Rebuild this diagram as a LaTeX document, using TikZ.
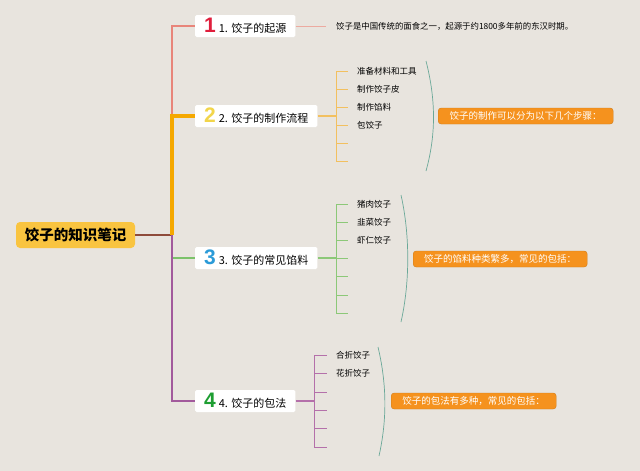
\documentclass[tikz,border=0pt]{standalone}
\usepackage{fontspec}
\setmainfont{Noto Sans CJK SC}
\newfontfamily\numfont{Liberation Sans}
\usetikzlibrary{positioning}

\definecolor{bgc}{RGB}{232,228,222}
\definecolor{rootc}{RGB}{249,196,64}
\definecolor{rootln}{RGB}{142,75,59}
\definecolor{brA}{RGB}{232,133,122}
\definecolor{brB}{RGB}{245,168,0}
\definecolor{brC}{RGB}{124,194,106}
\definecolor{brD}{RGB}{162,90,156}
\definecolor{subA}{RGB}{236,170,160}
\definecolor{subB}{RGB}{242,192,96}
\definecolor{subC}{RGB}{140,200,120}
\definecolor{subD}{RGB}{180,112,170}
\definecolor{arcc}{RGB}{106,168,152}
\definecolor{sumc}{RGB}{245,146,30}
\definecolor{numA}{RGB}{224,30,60}
\definecolor{numB}{RGB}{242,213,74}
\definecolor{numC}{RGB}{43,155,216}
\definecolor{numD}{RGB}{30,158,50}

\tikzset{
  rootbox/.style={fill=rootc,rounded corners=4pt,minimum width=119pt,minimum height=26pt,
    inner sep=0pt,font=\fontsize{14.5}{16}\selectfont\bfseries},
  topic/.style={fill=white,rounded corners=1.5pt,minimum height=22pt,inner xsep=9pt,
    inner ysep=0pt,anchor=west,font=\fontsize{11}{12}\selectfont},
  leaf/.style={inner sep=0pt,anchor=west,font=\fontsize{8.5}{10}\selectfont},
  desc/.style={inner sep=0pt,anchor=west,font=\fontsize{8.4}{10}\selectfont},
  sumbox/.style={fill=sumc,draw=sumc!85!black,line width=0.4pt,rounded corners=3pt,
    text=white,minimum height=16pt,inner xsep=9pt,inner ysep=0pt,anchor=west,
    align=left,font=\fontsize{9.5}{11}\selectfont},
  brace/.style={draw=arcc,line width=0.7pt},
}
\newcommand{\bignum}[2]{{\numfont\bfseries\fontsize{21}{21}\selectfont\color{#1}#2}\hspace{3pt}}

\begin{document}
\begin{tikzpicture}[x=1pt,y=-1pt]
  \path[fill=bgc,use as bounding box] (0,0) rectangle (640,471);

  % root
  \node[rootbox] (root) at (75.5,235) {饺子的知识笔记};
  \coordinate (hub) at (172,235);

  % topics
  \node[topic] (t1) at (195,26) {\bignum{numA}{1}1. 饺子的起源};
  \node[topic] (t2) at (195,116) {\bignum{numB}{2}2. 饺子的制作流程};
  \node[topic] (t3) at (195,258) {\bignum{numC}{3}3. 饺子的常见馅料};
  \node[topic] (t4) at (195,401) {\bignum{numD}{4}4. 饺子的包法};

  % main branches
  \draw[rootln,line width=2pt] (root.east) -- (hub);
  \draw[brA,line width=2pt] (hub) |- (t1.west);
  \draw[brB,line width=3.5pt] (hub) |- (t2.west);
  \draw[brC,line width=2pt] (hub) |- (t3.west);
  \draw[brD,line width=2pt] (hub) |- (t4.west);

  % topic 1
  \coordinate (d1) at (326,26);
  \draw[subA,line width=0.8pt] (t1.east) -- (d1);
  \node[desc,right=10pt of d1] (x1) {饺子是中国传统的面食之一，起源于约1800多年前的东汉时期。};

  % topic 2
  \foreach \i/\yy in {1/71,2/89,3/107,4/125,5/143,6/161}{
    \coordinate (b2\i) at (336,\yy);
    \coordinate (e2\i) at (348,\yy);
    \draw[subB,line width=0.8pt] (b2\i) -- (e2\i);
  }
  \draw[subB,line width=0.8pt] (b21) -- (b26);
  \draw[subB,line width=2pt] (t2.east) -- (t2.east -| b21);
  \node[leaf,right=9pt of e21] (l21) {准备材料和工具};
  \node[leaf,right=9pt of e22] (l22) {制作饺子皮};
  \node[leaf,right=9pt of e23] (l23) {制作馅料};
  \node[leaf,right=9pt of e24] (l24) {包饺子};
  \draw[brace] (426,61) .. controls (436,100) and (436,135) .. (426,171);
  \node[sumbox,minimum width=175pt] (m2) at (438,116) {饺子的制作可以分为以下几个步骤：};

  % topic 3
  \foreach \i/\yy in {1/204,2/222,3/240,4/258,5/276,6/295,7/313}{
    \coordinate (b3\i) at (336,\yy);
    \coordinate (e3\i) at (348,\yy);
    \draw[subC,line width=0.8pt] (b3\i) -- (e3\i);
  }
  \draw[subC,line width=0.8pt] (b31) -- (b37);
  \draw[subC,line width=1.2pt] (t3.east) -- (b34);
  \node[leaf,right=9pt of e31] (l31) {猪肉饺子};
  \node[leaf,right=9pt of e32] (l32) {韭菜饺子};
  \node[leaf,right=9pt of e33] (l33) {虾仁饺子};
  \draw[brace] (401,195) .. controls (410,235) and (410,282) .. (401,322);
  \node[sumbox,minimum width=174pt] (m3) at (413,259) {饺子的馅料种类繁多，常见的包括：};

  % topic 4
  \foreach \i/\yy in {1/355,2/373,3/392,4/410,5/428,6/447}{
    \coordinate (b4\i) at (314,\yy);
    \coordinate (e4\i) at (327,\yy);
    \draw[subD,line width=0.8pt] (b4\i) -- (e4\i);
  }
  \draw[subD,line width=0.8pt] (b41) -- (b46);
  \draw[subD,line width=1.5pt] (t4.east) -- (t4.east -| b41);
  \node[leaf,right=9pt of e41] (l41) {合折饺子};
  \node[leaf,right=9pt of e42] (l42) {花折饺子};
  \draw[brace] (378,347) .. controls (387,385) and (387,420) .. (379,456);
  \node[sumbox,minimum width=165pt] (m4) at (391,401) {饺子的包法有多种，常见的包括：};
\end{tikzpicture}
\end{document}
